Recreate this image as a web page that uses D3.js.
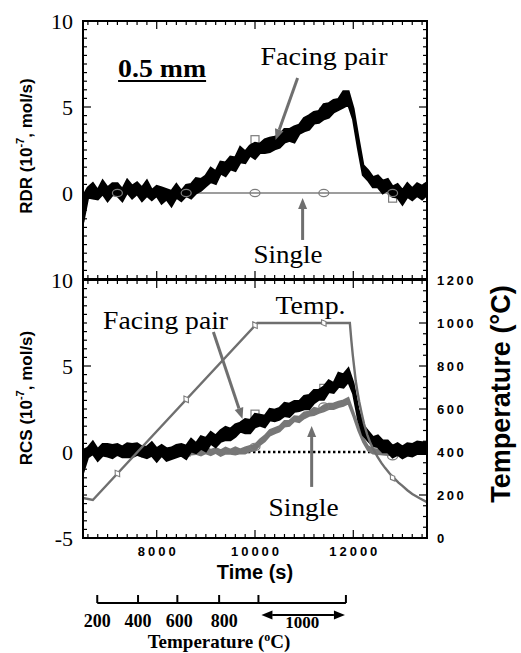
<!DOCTYPE html>
<html><head><meta charset="utf-8">
<script src="https://cdn.jsdelivr.net/npm/d3@7"></script>
<style>body{margin:0;background:#fff}svg{display:block}</style>
</head><body><svg id="c" width="521" height="653"></svg>
<script>
// ---------------- data ----------------
const time = [6500,6600,6700,6800,6900,7000,7100,7200,7300,7400,
  7500,7600,7700,7800,7900,8000,8100,8200,8300,8400,
  8500,8600,8700,8800,8900,9000,9100,9200,9300,9400,
  9500,9600,9700,9800,9900,10000,10100,10200,10300,10400,
  10500,10600,10700,10800,10900,11000,11100,11200,11300,11400,
  11500,11600,11700,11800,11900,12000,12100,12200,12300,12400,
  12500,12600,12700,12800,12900,13000,13100,13200,13300,13400,
  13500];
// RDR, facing pair (10^-7 mol/s): centre of the noisy trace, and its upper / lower half-widths
const rdrPairMid = [-0.7,0.0,0.1,-0.05,0.15,0.05,0.2,0.1,0.0,0.25,
  0.1,0.2,0.05,0.15,-0.05,0.05,-0.15,-0.05,-0.2,0.0,
  -0.1,0.05,0.2,0.3,0.55,0.65,0.95,1.05,1.35,1.45,
  1.7,1.8,2.05,2.1,2.4,2.45,2.65,2.6,2.9,2.85,
  3.1,3.15,3.4,3.45,3.75,3.85,4.15,4.25,4.5,4.6,
  4.9,4.95,5.2,5.3,5.4,4.6,2.9,1.35,1.0,0.7,
  0.65,0.45,0.4,0.15,0.05,-0.15,0.05,0.0,0.15,0.1,
  0.2];
const rdrPairUp = [0.5,0.3,0.45,0.2,0.55,0.25,0.35,0.45,0.2,0.5,
  0.3,0.4,0.25,0.55,0.2,0.35,0.45,0.25,0.3,0.5,
  0.2,0.4,0.3,0.55,0.25,0.35,0.5,0.2,0.45,0.3,
  0.4,0.25,0.6,0.3,0.35,0.45,0.2,0.5,0.3,0.4,
  0.25,0.55,0.3,0.4,0.2,0.5,0.35,0.45,0.25,0.55,
  0.3,0.45,0.25,0.6,0.5,0.3,0.3,0.25,0.3,0.2,
  0.35,0.25,0.4,0.2,0.45,0.3,0.5,0.25,0.4,0.3,
  0.4];
const rdrPairDown = [1.0,0.25,0.4,0.3,0.2,0.5,0.3,0.25,0.45,0.2,
  0.4,0.25,0.5,0.3,0.35,0.2,0.45,0.3,0.55,0.25,
  0.35,0.2,0.5,0.3,0.4,0.25,0.3,0.5,0.2,0.45,
  0.3,0.5,0.25,0.35,0.2,0.45,0.3,0.25,0.5,0.3,
  0.45,0.2,0.35,0.5,0.3,0.25,0.45,0.2,0.4,0.3,
  0.5,0.25,0.35,0.3,0.25,0.3,0.3,0.3,0.25,0.35,
  0.3,0.45,0.2,0.35,0.3,0.5,0.25,0.4,0.3,0.45,
  0.3];
// RCS, facing pair
const rcsPairMid = [-0.3,0.0,0.1,-0.05,0.1,0.0,0.15,0.05,0.1,0.0,
  0.15,0.05,0.1,-0.05,0.05,-0.05,0.0,-0.1,0.05,-0.05,
  0.1,0.1,0.25,0.3,0.5,0.5,0.7,0.7,0.9,0.95,
  1.15,1.2,1.4,1.45,1.6,1.7,1.85,1.9,2.05,2.1,
  2.3,2.35,2.5,2.55,2.75,2.8,3.0,3.1,3.35,3.45,
  3.7,3.8,4.1,4.2,4.4,3.7,2.2,1.3,0.9,0.65,
  0.55,0.4,0.3,0.15,0.05,0.0,0.1,0.2,0.15,0.25,
  0.2];
const rcsPairUp = [0.4,0.25,0.5,0.2,0.35,0.45,0.25,0.4,0.2,0.5,
  0.3,0.45,0.2,0.35,0.5,0.25,0.4,0.3,0.2,0.45,
  0.35,0.25,0.5,0.2,0.4,0.3,0.45,0.25,0.35,0.5,
  0.2,0.4,0.3,0.45,0.25,0.5,0.3,0.2,0.45,0.35,
  0.25,0.5,0.3,0.4,0.2,0.45,0.3,0.5,0.25,0.35,
  0.45,0.2,0.5,0.3,0.45,0.3,0.3,0.25,0.3,0.2,
  0.4,0.25,0.35,0.2,0.45,0.3,0.4,0.25,0.45,0.3,
  0.35];
const rcsPairDown = [0.9,0.3,0.2,0.45,0.3,0.25,0.5,0.2,0.4,0.3,
  0.45,0.2,0.35,0.3,0.25,0.5,0.2,0.4,0.45,0.25,
  0.3,0.5,0.2,0.35,0.3,0.45,0.2,0.4,0.3,0.25,
  0.45,0.3,0.2,0.35,0.5,0.25,0.3,0.45,0.2,0.3,
  0.4,0.25,0.45,0.2,0.35,0.3,0.5,0.25,0.3,0.4,
  0.2,0.35,0.3,0.45,0.3,0.3,0.3,0.3,0.25,0.3,
  0.25,0.4,0.3,0.45,0.2,0.35,0.3,0.45,0.25,0.35,
  0.3];
// RCS, single (ends at 12800 s)
const rcsSingleMid = [0.0,0.05,-0.05,0.05,0.0,0.05,-0.05,0.0,0.05,-0.05,
  0.05,0.0,-0.05,0.05,0.0,-0.05,0.05,0.0,-0.05,0.05,
  0.0,0.05,-0.05,0.05,0.0,0.05,0.0,0.05,0.0,0.05,
  0.0,0.05,0.05,0.1,0.15,0.3,0.55,0.85,1.05,1.25,
  1.4,1.6,1.7,1.9,1.95,2.1,2.2,2.35,2.4,2.55,
  2.6,2.7,2.75,2.9,2.95,2.2,1.4,0.7,0.2,0.05,
  0.0,0.0,-0.05,-0.05];
const rcsSingleUp = [0.15,0.1,0.2,0.12,0.18,0.1,0.22,0.14,0.1,0.2,
  0.12,0.18,0.1,0.2,0.14,0.22,0.1,0.16,0.2,0.12,
  0.18,0.1,0.22,0.14,0.1,0.2,0.12,0.18,0.1,0.2,
  0.14,0.22,0.1,0.16,0.2,0.12,0.18,0.1,0.22,0.14,
  0.1,0.2,0.12,0.18,0.1,0.2,0.14,0.22,0.1,0.16,
  0.2,0.12,0.18,0.1,0.2,0.14,0.12,0.12,0.14,0.12,
  0.14,0.12,0.14,0.12];
const rcsSingleDown = [0.12,0.2,0.1,0.18,0.14,0.22,0.1,0.16,0.2,0.12,
  0.18,0.1,0.22,0.14,0.1,0.2,0.12,0.18,0.1,0.2,
  0.14,0.22,0.1,0.16,0.2,0.12,0.18,0.1,0.22,0.14,
  0.1,0.2,0.12,0.18,0.1,0.2,0.14,0.22,0.1,0.16,
  0.2,0.12,0.18,0.1,0.22,0.14,0.1,0.2,0.12,0.18,
  0.1,0.2,0.14,0.22,0.12,0.12,0.14,0.12,0.12,0.14,
  0.12,0.14,0.12,0.14];
// RDR, single: flat zero line
const rdrSingleTimes = [6500, 12800];
const rdrSingleValues = [0, 0];
// dotted zero line in the RCS panel
const zeroTimes = [6500, 12800];
const zeroValues = [0, 0];
// marker positions
const markerTimes = [7200, 8600, 10000, 11400, 12800];
const rdrPairMarkers = [0.1, 0.0, 3.1, 4.7, -0.3];
const rdrSingleMarkers = [0, 0, 0, 0, 0];
const rcsPairMarkers = [0.1, 0.0, 2.2, 3.7, 0.2];
const rcsSingleMarkers = [0.05, 0.0, 0.3, 2.65, -0.25];
// temperature programme (°C)
const tempTimes = [6500,6700,10050,11930,11960,11990,12020,12050,12085,12120,12170,12220,12285,12350,12425,12500,12575,12650,12740,12830,12920,13000,13100,13200,13350,13500];
const tempValues = [186,177,1000,1000,920,850,790,730,680,635,580,530,480,440,405,375,348,325,300,278,258,242,222,205,185,167];
const tempMarkers = [300, 645, 990, 1000, 280];
// tick labels
const timeTicks = [8000, 10000, 12000];
const topRateTicks = [0, 5, 10];
const botRateTicks = [-5, 0, 5, 10];
const tempTicks = [0, 200, 400, 600, 800, 1000, 1200];
// secondary temperature bar under the time axis
const barLabels = [200, 400, 600, 800];
const barTimes = [6790, 7620, 8420, 9270, 10070, 11850];
const holdLabel = 1000;

// ---------------- scales ----------------
const svg = d3.select("#c");
const X0 = 83, X1 = 427;
const x = d3.scaleLinear().domain([6500, 13500]).range([X0, X1]);
const yTop = d3.scaleLinear().domain([-5, 10]).range([279, 21]);
const yBot = d3.scaleLinear().domain([-5, 10]).range([538, 280]);
const yT = d3.scaleLinear().domain([0, 1200]).range([538, 280]);

const GRAY = "#6f6f6f", LGRAY = "#7c7c7c";
const SERIF = "'Liberation Serif','Times New Roman',serif";
const SANS = "'Liberation Sans',Arial,sans-serif";

const defs = svg.append("defs");
defs.append("clipPath").attr("id", "clipTop").append("rect")
  .attr("x", X0).attr("y", 21).attr("width", X1 - X0).attr("height", 258);
defs.append("clipPath").attr("id", "clipBot").append("rect")
  .attr("x", X0).attr("y", 280).attr("width", X1 - X0).attr("height", 258);

function band(g, ts, mid, up, down, ys, color, sw) {
  const data = ts.map((t, i) => ({t, m: mid[i], u: up[i], d: down[i]}));
  g.append("path").datum(data)
    .attr("d", d3.area().x(d => x(d.t)).y0(d => ys(d.m - d.d)).y1(d => ys(d.m + d.u)))
    .attr("fill", color).attr("stroke", color).attr("stroke-width", sw).attr("stroke-linejoin", "miter");
}
function line(g, ts, vs, ys, attrs) {
  const data = ts.map((t, i) => ({t, v: vs[i]}));
  const p = g.append("path").datum(data)
    .attr("d", d3.line().x(d => x(d.t)).y(d => ys(d.v)))
    .attr("fill", "none");
  Object.entries(attrs).forEach(([k, v]) => p.attr(k, v));
}
function markers(g, ts, vs, ys, type) {
  const data = ts.map((t, i) => ({t, v: vs[i]}));
  const sel = g.selectAll(null).data(data).enter();
  if (type === "circle") {
    sel.append("ellipse").attr("cx", d => x(d.t)).attr("cy", d => ys(d.v))
      .attr("rx", 5).attr("ry", 3.6).attr("fill", "none").attr("stroke", LGRAY).attr("stroke-width", 1.2);
  } else if (type === "square") {
    sel.append("rect").attr("x", d => x(d.t) - 4).attr("y", d => ys(d.v) - 4)
      .attr("width", 8).attr("height", 8).attr("fill", "none").attr("stroke", LGRAY).attr("stroke-width", 1.2);
  } else {
    sel.append("path").attr("transform", d => `translate(${x(d.t)},${ys(d.v)}) rotate(-35)`)
      .attr("d", "M0,-4 L2.6,0 L0,4 L-2.6,0 Z").attr("fill", "#fff").attr("stroke", LGRAY).attr("stroke-width", 1.1);
  }
}
function arrow(g, x1, y1, x2, y2, color, w) {
  const ang = Math.atan2(y2 - y1, x2 - x1), L = 11, hw = 4.5;
  const bx = x2 - L * Math.cos(ang), by = y2 - L * Math.sin(ang);
  g.append("line").attr("x1", x1).attr("y1", y1).attr("x2", bx).attr("y2", by)
    .attr("stroke", color).attr("stroke-width", w);
  g.append("path").attr("d", `M${x2},${y2} L${bx + hw * Math.sin(ang)},${by - hw * Math.cos(ang)} L${bx - hw * Math.sin(ang)},${by + hw * Math.cos(ang)} Z`)
    .attr("fill", color);
}
function ticks(g, side, scale, vals, len, pos) {
  vals.forEach(v => {
    const p = scale(v);
    let a;
    if (side === "left") a = [pos, p, pos + len, p];
    else if (side === "right") a = [pos, p, pos - len, p];
    else if (side === "top") a = [p, pos, p, pos + len];
    else a = [p, pos, p, pos - len];
    g.append("line").attr("x1", a[0]).attr("y1", a[1]).attr("x2", a[2]).attr("y2", a[3])
      .attr("stroke", "#000").attr("stroke-width", 1.2);
  });
}

// ---------------- top panel (RDR) ----------------
const gTop = svg.append("g").attr("clip-path", "url(#clipTop)");
line(gTop, rdrSingleTimes, rdrSingleValues, yTop, {stroke: LGRAY, "stroke-width": 1.6});
markers(gTop, markerTimes, rdrPairMarkers, yTop, "square");
band(gTop, time, rdrPairMid, rdrPairUp, rdrPairDown, yTop, "#000", 2.6);
markers(gTop, markerTimes, rdrSingleMarkers, yTop, "circle");

// ---------------- bottom panel (RCS + temperature) ----------------
const gBot = svg.append("g").attr("clip-path", "url(#clipBot)");
line(gBot, zeroTimes, zeroValues, yBot, {stroke: "#000", "stroke-width": 2.4, "stroke-dasharray": "2.4,2.6"});
band(gBot, time.slice(0, rcsSingleMid.length), rcsSingleMid, rcsSingleUp, rcsSingleDown, yBot, "#777", 2);
markers(gBot, markerTimes, rcsSingleMarkers, yBot, "circle");
markers(gBot, markerTimes, rcsPairMarkers, yBot, "square");
band(gBot, time, rcsPairMid, rcsPairUp, rcsPairDown, yBot, "#000", 2.4);
line(gBot, tempTimes, tempValues, yT, {stroke: GRAY, "stroke-width": 2.4});
markers(gBot, markerTimes, tempMarkers, yT, "diamond");

// ---------------- frames and ticks ----------------
const axes = svg.append("g");
[[21, 279], [280, 538]].forEach(([a, b]) => {
  axes.append("rect").attr("x", X0).attr("y", a).attr("width", X1 - X0).attr("height", b - a)
    .attr("fill", "none").attr("stroke", "#000").attr("stroke-width", 2);
});
const xMinor = d3.range(6600, 13500, 200).filter(v => v % 2000 !== 0);
[[21, "top"], [279, "bottom"], [280, "top"], [538, "bottom"]].forEach(([pos, side]) => {
  ticks(axes, side, x, xMinor, 4, pos);
  ticks(axes, side, x, timeTicks, 8, pos);
});
const yMinor = d3.range(-4.5, 10, 0.5).filter(v => v % 5 !== 0);
[yTop, yBot].forEach(ys => {
  ticks(axes, "left", ys, yMinor, 4, X0);
  ticks(axes, "left", ys, [0, 5], 8, X0);
});
ticks(axes, "right", yTop, yMinor, 4, X1);
ticks(axes, "right", yTop, [0, 5], 8, X1);
ticks(axes, "right", yT, d3.range(50, 1200, 50).filter(v => v % 200 !== 0), 4, X1);
ticks(axes, "right", yT, tempTicks.slice(1, -1), 8, X1);

// tick labels
axes.selectAll(null).data(topRateTicks).enter().append("text")
  .attr("x", 73).attr("y", d => yTop(d)).attr("dy", "0.36em").attr("text-anchor", "end")
  .attr("font-family", SERIF).attr("font-size", 22).text(d => d);
axes.selectAll(null).data(botRateTicks).enter().append("text")
  .attr("x", 73).attr("y", d => yBot(d)).attr("dy", "0.36em").attr("text-anchor", "end")
  .attr("font-family", SERIF).attr("font-size", 22).text(d => d);
axes.selectAll(null).data(timeTicks).enter().append("text")
  .attr("x", d => x(d) + 1.5).attr("y", 556).attr("text-anchor", "middle")
  .attr("font-family", SANS).attr("font-weight", "bold").attr("font-size", 13)
  .attr("letter-spacing", "3px").text(d => d);
axes.selectAll(null).data(tempTicks).enter().append("text")
  .attr("x", 437).attr("y", d => yT(d)).attr("dy", "0.36em")
  .attr("font-family", SANS).attr("font-weight", "bold").attr("font-size", 13)
  .attr("letter-spacing", "2.5px").text(d => d);

// axis titles
function vLabel(cx, cy, name) {
  const t = svg.append("text").attr("transform", `translate(${cx},${cy}) rotate(-90)`)
    .attr("text-anchor", "middle").attr("dominant-baseline", "central")
    .attr("font-family", SANS).attr("font-weight", "bold").attr("font-size", 17);
  t.append("tspan").text(name + " (10");
  t.append("tspan").attr("font-size", 11).attr("dy", -6).text("-7");
  t.append("tspan").attr("dy", 6).text(", mol/s)");
}
vLabel(26, 146, "RDR");
vLabel(26, 398, "RCS");
svg.append("text").attr("transform", "translate(501,394) rotate(-90)")
  .attr("text-anchor", "middle").attr("dominant-baseline", "central")
  .attr("font-family", SANS).attr("font-weight", "bold").attr("font-size", 27)
  .text("Temperature (°C)");
svg.append("text").attr("x", x(10000)).attr("y", 579).attr("text-anchor", "middle")
  .attr("font-family", SANS).attr("font-weight", "bold").attr("font-size", 20).text("Time (s)");

// ---------------- annotations ----------------
const ann = svg.append("g").attr("font-family", SERIF);
ann.append("text").attr("x", x(7214)).attr("y", yTop(6.74)).attr("font-weight", "bold")
  .attr("font-size", 25).attr("textLength", 88).attr("lengthAdjust", "spacingAndGlyphs").text("0.5 mm");
ann.append("line").attr("x1", x(7214)).attr("x2", x(7214) + 88).attr("y1", yTop(6.74) + 4).attr("y2", yTop(6.74) + 4)
  .attr("stroke", "#000").attr("stroke-width", 2);
ann.append("text").attr("x", x(10112)).attr("y", yTop(7.44)).attr("font-size", 26)
  .attr("textLength", 127).attr("lengthAdjust", "spacingAndGlyphs").text("Facing pair");
arrow(ann, x(10867), yTop(6.69), x(10418), yTop(3.08), GRAY, 3);
ann.append("text").attr("x", x(9969)).attr("y", yTop(-4.07)).attr("font-size", 26)
  .attr("textLength", 69).attr("lengthAdjust", "spacingAndGlyphs").text("Single");
arrow(ann, x(10969), yTop(-2.73), x(10969), yTop(-0.29), GRAY, 3);

ann.append("text").attr("x", x(6908)).attr("y", yBot(7.15)).attr("font-size", 26)
  .attr("textLength", 125).attr("lengthAdjust", "spacingAndGlyphs").text("Facing pair");
arrow(ann, x(9153), yBot(6.98), x(9745), yBot(1.92), GRAY, 3);
ann.append("text").attr("x", x(10418)).attr("y", yBot(8.02)).attr("font-size", 26)
  .attr("textLength", 70).attr("lengthAdjust", "spacingAndGlyphs").text("Temp.");
ann.append("text").attr("x", x(10276)).attr("y", yBot(-3.72)).attr("font-size", 26)
  .attr("textLength", 70).attr("lengthAdjust", "spacingAndGlyphs").text("Single");
arrow(ann, x(11153), yBot(-2.03), x(11153), yBot(1.51), GRAY, 3);

// ---------------- temperature bar ----------------
const bar = svg.append("g");
const barY = 603;
bar.append("line").attr("x1", x(barTimes[0])).attr("x2", x(barTimes[barTimes.length - 1]))
  .attr("y1", barY).attr("y2", barY).attr("stroke", "#000").attr("stroke-width", 2);
bar.selectAll(null).data(barTimes).enter().append("line")
  .attr("x1", d => x(d)).attr("x2", d => x(d)).attr("y1", barY).attr("y2", barY - 8)
  .attr("stroke", "#000").attr("stroke-width", 2);
bar.selectAll(null).data(barLabels).enter().append("text")
  .attr("x", (d, i) => x(barTimes[i]) + [0, 0, 2, 5][i]).attr("y", 627).attr("text-anchor", "middle")
  .attr("font-family", SERIF).attr("font-weight", "bold").attr("font-size", 18).text(d => d);
arrow(bar, x(barTimes[4]) + 14, 615, x(barTimes[5]) - 1, 615, "#000", 1.8);
arrow(bar, x(barTimes[5]) - 14, 615, x(barTimes[4]) + 3, 615, "#000", 1.8);
bar.append("text").attr("x", (x(barTimes[4]) + x(barTimes[5])) / 2).attr("y", 628).attr("text-anchor", "middle")
  .attr("font-family", SERIF).attr("font-weight", "bold").attr("font-size", 17).text(holdLabel);
const tt = bar.append("text").attr("x", 219).attr("y", 648).attr("text-anchor", "middle")
  .attr("font-family", SERIF).attr("font-weight", "bold").attr("font-size", 19);
tt.append("tspan").text("Temperature (");
tt.append("tspan").attr("font-size", 12).attr("dy", -7).text("o");
tt.append("tspan").attr("dy", 7).text("C)");
</script></body></html>
